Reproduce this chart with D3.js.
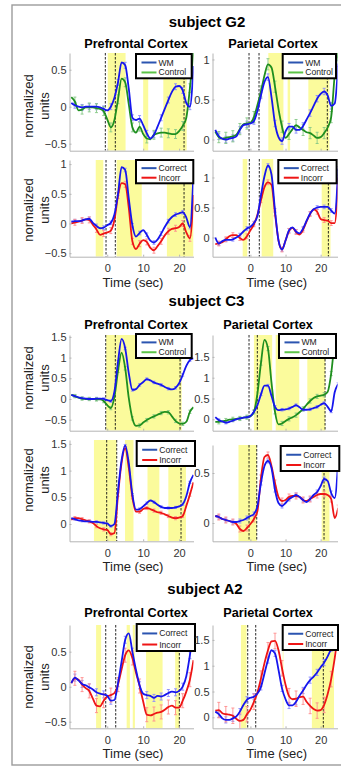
<!DOCTYPE html>
<html><head><meta charset="utf-8">
<script src="https://cdn.jsdelivr.net/npm/d3@7"></script>
<style>body{margin:0;background:#fff;} svg{display:block;font-family:"Liberation Sans",Arial,sans-serif;}</style>
</head><body><svg id="c" width="341" height="767"></svg>
<script>
// ---------- DATA ----------
const timesL = [-10,-9,-8,-7,-6,-5,-4,-3,-2,-1,0,1,2,3,4,5,6,7,8,9,10,11,12,13,14,15,16,17,18,19,20,21,22,23,24];
const timesR = [-10,-9,-8,-7,-6,-5,-4,-3,-2,-1,0,1,2,3,4,5,6,7,8,9,10,11,12,13,14,15,16,17,18,19,20,21,22,23,24,25];
const xTicks = [0,10,20];

// subject G2
const g2PfcWM      = [0.05,0.02,0.0,-0.01,0.0,0.0,0.0,0.0,-0.01,-0.03,-0.05,0.0,0.12,0.33,0.6,0.56,0.24,-0.15,-0.18,-0.16,-0.25,-0.36,-0.43,-0.38,-0.27,-0.15,-0.03,0.09,0.2,0.27,0.28,0.22,0.05,0.0,0.55];
const g2PfcControl = [0.13,0.07,-0.05,-0.04,-0.01,-0.01,-0.01,-0.02,-0.03,-0.06,-0.17,-0.28,-0.18,0.1,0.38,0.33,0.03,-0.28,-0.35,-0.27,-0.37,-0.43,-0.44,-0.38,-0.36,-0.35,-0.35,-0.36,-0.37,-0.37,-0.33,-0.26,-0.15,0.25,0.75];
const g2ParWM      = [0.12,0.04,0.01,0.0,0.01,0.02,0.04,0.12,0.18,0.19,0.2,0.23,0.36,0.55,0.72,0.78,0.53,0.2,0.03,-0.02,0.1,0.16,0.16,0.12,0.12,0.17,0.25,0.33,0.42,0.51,0.57,0.6,0.55,0.42,0.45,0.95];
const g2ParControl = [0.1,0.03,0.01,0.02,0.03,0.04,0.06,0.13,0.19,0.2,0.21,0.28,0.43,0.6,0.8,0.94,0.9,0.66,0.38,0.16,0.02,0.07,0.13,0.18,0.15,0.12,0.09,0.08,0.05,0.02,0.03,0.08,0.15,0.28,0.8,1.1];
const g2PfcCorrect = [0.03,0.04,0.04,0.05,0.07,0.08,0.01,-0.04,-0.08,-0.07,-0.03,0.01,0.15,0.5,0.95,0.9,0.42,-0.03,-0.22,-0.16,-0.11,-0.19,-0.29,-0.32,-0.27,-0.17,-0.06,0.04,0.11,0.15,0.17,0.19,0.1,-0.06,0.85];
const g2PfcIncorr  = [0.0,0.02,0.03,0.05,0.07,0.06,-0.02,-0.1,-0.19,-0.17,-0.15,-0.12,0.06,0.47,0.68,0.66,0.26,-0.3,-0.43,-0.34,-0.28,-0.31,-0.41,-0.45,-0.38,-0.3,-0.2,-0.13,-0.09,-0.08,-0.06,0.0,-0.15,-0.25,0.48];
const g2ParCorrect = [0.0,-0.1,-0.06,-0.04,-0.04,-0.03,0.0,0.04,0.1,0.15,0.18,0.24,0.36,0.7,1.02,1.2,1.05,0.45,-0.05,-0.2,-0.05,0.12,0.17,0.1,0.07,0.15,0.28,0.4,0.47,0.5,0.51,0.51,0.51,0.45,0.4,1.15];
const g2ParIncorr  = [-0.11,-0.1,-0.08,-0.03,0.02,0.04,0.04,-0.01,-0.04,0.02,0.12,0.22,0.38,0.62,0.84,0.92,0.88,0.4,-0.05,-0.2,-0.05,0.11,0.16,0.09,0.05,0.13,0.27,0.39,0.47,0.43,0.31,0.29,0.28,0.24,0.24,1.0];

// subject C3
const c3PfcWM      = [0.1,0.07,0.04,0.02,0.01,0.0,0.0,0.01,0.01,0.0,-0.03,-0.05,0.18,0.9,1.45,1.22,0.62,0.22,0.24,0.34,0.41,0.48,0.45,0.4,0.37,0.34,0.29,0.25,0.23,0.27,0.38,0.58,0.8,0.94,0.98];
const c3PfcControl = [0.1,0.07,0.03,0.01,0.0,0.0,0.0,-0.01,-0.01,-0.05,-0.15,-0.22,0.05,0.68,1.12,0.74,0.02,-0.47,-0.65,-0.64,-0.57,-0.51,-0.46,-0.42,-0.38,-0.34,-0.31,-0.32,-0.42,-0.53,-0.59,-0.6,-0.55,-0.31,-0.2];
const c3ParWM      = [0.05,-0.02,-0.05,-0.08,-0.06,-0.03,0.0,0.02,0.04,0.05,0.08,0.18,0.34,0.6,0.81,0.81,0.56,0.3,0.22,0.23,0.24,0.26,0.3,0.34,0.29,0.23,0.23,0.24,0.27,0.3,0.35,0.39,0.3,0.19,0.65,0.85];
const c3ParControl = [-0.06,-0.06,-0.05,-0.03,-0.01,0.0,0.01,0.02,0.04,0.05,0.07,0.18,0.62,1.35,1.91,1.7,0.88,0.18,-0.12,-0.1,-0.04,0.01,0.05,0.1,0.17,0.25,0.35,0.44,0.51,0.55,0.57,0.59,0.66,1.1,1.85,2.2];
const c3PfcCorrect = [0.11,0.09,0.07,0.06,0.05,0.05,0.04,0.04,0.03,0.02,0.01,-0.04,0.0,0.62,1.2,1.47,1.14,0.55,0.27,0.28,0.33,0.39,0.44,0.41,0.36,0.32,0.3,0.3,0.3,0.31,0.33,0.37,0.52,0.78,0.92];
const c3PfcIncorr  = [0.08,0.11,0.11,0.09,0.07,0.05,0.02,-0.04,-0.08,-0.1,-0.11,-0.19,-0.17,0.55,1.15,1.42,1.05,0.5,0.23,0.23,0.28,0.3,0.28,0.25,0.22,0.21,0.18,0.15,0.12,0.11,0.12,0.15,0.34,0.55,0.78];
const c3ParCorrect = [0.07,0.06,0.04,0.03,0.02,0.01,0.01,0.02,0.03,0.05,0.07,0.09,0.17,0.4,0.57,0.62,0.55,0.33,0.2,0.17,0.2,0.24,0.26,0.28,0.26,0.23,0.21,0.24,0.28,0.31,0.37,0.44,0.42,0.3,0.25,0.62];
const c3ParIncorr  = [0.07,0.06,0.04,0.03,0.02,0.01,-0.01,-0.06,-0.08,-0.05,-0.01,0.04,0.12,0.45,0.66,0.68,0.57,0.4,0.26,0.22,0.23,0.26,0.27,0.27,0.26,0.23,0.22,0.24,0.26,0.28,0.29,0.29,0.28,0.24,0.05,0.15];

// subject A2
const a2PfcCorrect = [0.05,0.13,0.09,0.04,0.02,-0.01,-0.04,-0.08,-0.1,-0.11,-0.13,-0.2,-0.19,0.05,0.36,0.67,0.76,0.5,0.24,0.02,-0.1,-0.12,-0.13,-0.16,-0.13,-0.14,-0.12,-0.09,-0.07,-0.08,-0.06,0.0,0.15,0.45,0.82];
const a2PfcIncorr  = [0.05,0.12,0.1,0.03,-0.02,-0.06,-0.17,-0.27,-0.28,-0.2,-0.14,-0.12,-0.09,0.03,0.25,0.45,0.52,0.41,0.2,0.01,-0.21,-0.4,-0.41,-0.39,-0.37,-0.36,-0.33,-0.29,-0.27,-0.3,-0.3,-0.2,-0.07,0.1,0.38];
const a2ParCorrect = [0.11,0.06,-0.02,-0.05,-0.05,-0.02,0.02,0.11,0.24,0.34,0.38,0.4,0.46,0.59,0.85,1.11,1.3,1.24,0.92,0.56,0.35,0.23,0.23,0.3,0.42,0.52,0.63,0.72,0.79,0.87,0.97,1.06,1.18,1.34,1.58,1.8];
const a2ParIncorr  = [0.13,0.14,0.08,0.06,0.05,0.03,-0.03,-0.07,-0.05,0.06,0.15,0.3,0.48,0.75,1.05,1.3,1.47,1.48,1.3,0.95,0.63,0.41,0.35,0.36,0.39,0.4,0.3,0.22,0.16,0.13,0.14,0.24,0.45,0.74,1.14,1.7];

// error-bar half widths (one estimate per series)
const errG2Task = [0.04,0.06,0.04,0.07];   // PFC WM, PFC Control, PAR WM, PAR Control
const errG2Resp = [0.03,0.05,0.03,0.04];
const errC3Task = [0.03,0.04,0.03,0.05];
const errC3Resp = [0.02,0.03,0.02,0.03];
const errA2Resp = [0.05,0.1,0.06,0.15];

// significance bands [start, end] (sec)
const bandsG2PfcTask = [[0.14,5.1],[10.0,11.4],[15.6,22.1]];
const bandsG2ParTask = [[5.1,9.4],[10.6,11.3],[16.5,22.5]];
const bandsG2PfcResp = [[-3.2,-1.1],[2.6,9.6],[16.6,24]];
const bandsG2ParResp = [[-2.2,-0.9],[3.2,6.5],[20.3,22.8]];
const bandsC3PfcTask = [[-0.3,20.7]];
const bandsC3ParTask = [[1.0,6.2],[7.2,13.9],[16.2,21.3]];
const bandsC3PfcResp = [[-3.7,2.6],[4.95,7.3],[11.2,14.5],[17,21.9]];
const bandsC3ParResp = [[-3.4,1.8],[20.3,22.5]];
const bandsA2PfcResp = [[-3.1,-1.7],[5.4,6.3],[7.1,7.7],[10.8,15.4],[18.9,20.1]];
const bandsA2ParResp = [[-2.7,-1.1],[9.2,9.4],[17.5,23.8]];

// event markers (sec)
const dashG2PfcTask = [-0.53,2.25,21.37];
const dashG2ParTask = [-0.4,2.45,21.9];
const dashG2PfcResp = [-0.34,2.25,21.37];
const dashG2ParResp = [-0.31,2.53,22.2];
const dashC3PfcTask = [-0.42,2.25,20.26];
const dashC3ParTask = [-0.4,1.97,21.25];
const dashC3PfcResp = [-0.15,2.64,20.53];
const dashC3ParResp = [-0.4,1.8,20.96];
const dashA2PfcResp = [-0.42,2.36,20.06];
const dashA2ParResp = [-0.77,1.51,20.76];

// y tick values
const yTicksG2PfcTask = [-0.5,0,0.5];
const yTicksG2ParTask = [0,0.5,1];
const yTicksG2PfcResp = [-0.5,0,0.5,1];
const yTicksG2ParResp = [0,0.5,1];
const yTicksC3PfcTask = [-0.5,0,0.5,1,1.5];
const yTicksC3ParTask = [0,0.5,1,1.5];
const yTicksC3PfcResp = [0,0.5,1,1.5];
const yTicksC3ParResp = [0,0.5];
const yTicksA2PfcResp = [-0.5,0,0.5];
const yTicksA2ParResp = [0,0.5,1,1.5];

// y limits
const yLimG2PfcTask = [-0.595,0.726];
const yLimG2ParTask = [-0.14,1.081];
const yLimG2PfcResp = [-0.559,1.069];
const yLimG2ParResp = [-0.32,1.308];
const yLimC3PfcTask = [-0.766,1.546];
const yLimC3ParTask = [-0.274,2.026];
const yLimC3PfcResp = [-0.324,1.573];
const yLimC3ParResp = [-0.183,0.78];
const yLimA2PfcResp = [-0.594,0.881];
const yLimA2ParResp = [-0.213,1.789];

const subjects = ['subject G2','subject C3','subject A2'];
const regions = ['Prefrontal Cortex','Parietal Cortex'];

// ---------- LAYOUT ----------
const colors = {WM:'#1616ee', Control:'#1f8f1f', Correct:'#1616ee', Incorr:'#ee1515'};
const legendColors = {WM:'#2b54b0', Control:'#5cc447', Correct:'#2b54b0', Incorr:'#ee1515'};
const errColors = {WM:'#8a8aff', Control:'#86c886', Correct:'#8a8aff', Incorr:'#ff8c8c'};
const yellow = '#fbfb9c';

const cols = {
  L:{domain:[-10.5,24], range:[69.5,193.5], times:timesL, timeX:133},
  R:{domain:[-10.8,24.8], range:[212.5,337.5], times:timesR, timeX:276.7}
};
const rows = [
  {top:[53,53], bottom:150.7, xLabels:false, ylab:106},
  {top:[160,159], bottom:256.7, xLabels:true, ylab:210},
  {top:[335,335], bottom:430.7, xLabels:false, ylab:378},
  {top:[440,445], bottom:541.3, xLabels:true, ylab:480},
  {top:[625,625], bottom:728.3, xLabels:true, ylab:677}
];
const panels = [
  {row:0,col:'L',yLim:yLimG2PfcTask,yTicks:yTicksG2PfcTask,bands:bandsG2PfcTask,dashes:dashG2PfcTask,
   series:[['WM',g2PfcWM,errG2Task[0]],['Control',g2PfcControl,errG2Task[1]]],legend:[136,54,55.7,24.3]},
  {row:0,col:'R',yLim:yLimG2ParTask,yTicks:yTicksG2ParTask,bands:bandsG2ParTask,dashes:dashG2ParTask,
   series:[['WM',g2ParWM,errG2Task[2]],['Control',g2ParControl,errG2Task[3]]],legend:[282.7,54,53.3,24.3]},
  {row:1,col:'L',yLim:yLimG2PfcResp,yTicks:yTicksG2PfcResp,bands:bandsG2PfcResp,dashes:dashG2PfcResp,
   series:[['Correct',g2PfcCorrect,errG2Resp[0]],['Incorr',g2PfcIncorr,errG2Resp[1]]],legend:[136,160,57.3,23.3]},
  {row:1,col:'R',yLim:yLimG2ParResp,yTicks:yTicksG2ParResp,bands:bandsG2ParResp,dashes:dashG2ParResp,
   series:[['Correct',g2ParCorrect,errG2Resp[2]],['Incorr',g2ParIncorr,errG2Resp[3]]],legend:[278.3,160,58.3,23.3]},
  {row:2,col:'L',yLim:yLimC3PfcTask,yTicks:yTicksC3PfcTask,bands:bandsC3PfcTask,dashes:dashC3PfcTask,
   series:[['WM',c3PfcWM,errC3Task[0]],['Control',c3PfcControl,errC3Task[1]]],legend:[136,334,55.7,24]},
  {row:2,col:'R',yLim:yLimC3ParTask,yTicks:yTicksC3ParTask,bands:bandsC3ParTask,dashes:dashC3ParTask,
   series:[['WM',c3ParWM,errC3Task[2]],['Control',c3ParControl,errC3Task[3]]],legend:[279,334,57,24]},
  {row:3,col:'L',yLim:yLimC3PfcResp,yTicks:yTicksC3PfcResp,bands:bandsC3PfcResp,dashes:dashC3PfcResp,
   series:[['Correct',c3PfcCorrect,errC3Resp[0]],['Incorr',c3PfcIncorr,errC3Resp[1]]],legend:[136.7,441,58.3,25]},
  {row:3,col:'R',yLim:yLimC3ParResp,yTicks:yTicksC3ParResp,bands:bandsC3ParResp,dashes:dashC3ParResp,
   series:[['Correct',c3ParCorrect,errC3Resp[2]],['Incorr',c3ParIncorr,errC3Resp[3]]],legend:[280.7,446,58.6,25]},
  {row:4,col:'L',yLim:yLimA2PfcResp,yTicks:yTicksA2PfcResp,bands:bandsA2PfcResp,dashes:dashA2PfcResp,
   series:[['Correct',a2PfcCorrect,errA2Resp[0]],['Incorr',a2PfcIncorr,errA2Resp[1]]],legend:[136.7,624,58.3,27]},
  {row:4,col:'R',yLim:yLimA2ParResp,yTicks:yTicksA2ParResp,bands:bandsA2ParResp,dashes:dashA2ParResp,
   series:[['Correct',a2ParCorrect,errA2Resp[2]],['Incorr',a2ParIncorr,errA2Resp[3]]],legend:[282.7,625,55.3,25]}
];
const sections = [
  {title:subjects[0], ty:26.5, tx:207, py:48.4, px:[136,273]},
  {title:subjects[1], ty:306, tx:206.5, py:328.6, px:[136,268]},
  {title:subjects[2], ty:594, tx:205, py:617, px:[136,268]}
];

// ---------- DRAW ----------
const svg = d3.select('#c');
svg.append('rect').attr('x',12).attr('y',5).attr('width',340).attr('height',760)
  .attr('fill','none').attr('stroke','#9c9c9c').attr('stroke-width',1.4);

sections.forEach(s=>{
  svg.append('text').attr('x',s.tx).attr('y',s.ty).attr('text-anchor','middle')
    .attr('font-size',15).attr('font-weight','bold').attr('fill','#000').text(s.title);
  regions.forEach((r,k)=>{
    svg.append('text').attr('x',s.px[k]).attr('y',s.py).attr('text-anchor','middle')
      .attr('font-size',12.7).attr('font-weight','bold').attr('fill','#000').text(r);
  });
});

rows.forEach(r=>{
  const g = svg.append('g').attr('font-size',13).attr('fill','#222');
  g.append('text').attr('transform',`translate(28,${r.ylab}) rotate(-90)`).attr('text-anchor','middle')
    .attr('dominant-baseline','central').text('normalized');
  g.append('text').attr('transform',`translate(44.5,${r.ylab}) rotate(-90)`).attr('text-anchor','middle')
    .attr('dominant-baseline','central').text('units');
  if(r.xLabels){
    ['L','R'].forEach(c=>{
      g.append('text').attr('x',cols[c].timeX).attr('y',r.bottom+25.5).attr('text-anchor','middle')
        .attr('dominant-baseline','central').text('Time (sec)');
    });
  }
});

const fmt = d3.format('~g');
panels.forEach((p,i)=>{
  const c = cols[p.col], r = rows[p.row];
  const top = r.top[p.col==='L'?0:1], bottom = r.bottom;
  const x = d3.scaleLinear().domain(c.domain).range(c.range);
  const y = d3.scaleLinear().domain(p.yLim).range([bottom, top]);
  const g = svg.append('g');
  const cid = 'clip'+i;
  svg.append('clipPath').attr('id',cid).append('rect')
    .attr('x',c.range[0]).attr('y',top).attr('width',c.range[1]-c.range[0]).attr('height',bottom-top);
  const pg = g.append('g').attr('clip-path',`url(#${cid})`);
  p.bands.forEach(b=>{
    pg.append('rect').attr('x',x(b[0])).attr('width',x(b[1])-x(b[0]))
      .attr('y',top).attr('height',bottom-top).attr('fill',yellow);
  });
  p.dashes.forEach(t=>{
    pg.append('line').attr('x1',x(t)).attr('x2',x(t)).attr('y1',top).attr('y2',bottom)
      .attr('stroke','#111').attr('stroke-width',0.9).attr('stroke-dasharray','2.5,1.5');
  });
  // error bars
  p.series.forEach(([lab,vals,err])=>{
    const eg = pg.append('g').attr('stroke',errColors[lab]).attr('stroke-width',0.9);
    c.times.forEach((t,k)=>{
      if(k%2!==1) return;
      const v = vals[k];
      eg.append('line').attr('x1',x(t)).attr('x2',x(t)).attr('y1',y(v-err)).attr('y2',y(v+err));
      eg.append('line').attr('x1',x(t)-1.5).attr('x2',x(t)+1.5).attr('y1',y(v-err)).attr('y2',y(v-err));
      eg.append('line').attr('x1',x(t)-1.5).attr('x2',x(t)+1.5).attr('y1',y(v+err)).attr('y2',y(v+err));
    });
  });
  const line = d3.line().x(d=>x(d[0])).y(d=>y(d[1])).curve(d3.curveMonotoneX);
  // draw second series first (it sits beneath in the reference), then first
  [p.series[1], p.series[0]].forEach(([lab,vals])=>{
    pg.append('path').datum(c.times.map((t,k)=>[t,vals[k]])).attr('d',line)
      .attr('fill','none').attr('stroke',colors[lab]).attr('stroke-width',1.8).attr('stroke-linejoin','round');
  });
  // axes
  const ya = d3.axisLeft(y).tickValues(p.yTicks).tickSizeInner(-2).tickSizeOuter(0).tickPadding(3).tickFormat(fmt);
  const yg = g.append('g').attr('transform',`translate(${c.range[0]},0)`).call(ya);
  const xa = d3.axisBottom(x).tickValues(xTicks).tickSizeInner(-2).tickSizeOuter(0).tickPadding(7.4)
    .tickFormat(r.xLabels ? fmt : ()=>'');
  const xg = g.append('g').attr('transform',`translate(0,${bottom})`).call(xa);
  [yg,xg].forEach(ax=>{
    ax.select('.domain').attr('stroke','#b4b4b4').attr('stroke-width',1);
    ax.selectAll('.tick line').attr('stroke','#b4b4b4');
    ax.selectAll('.tick text').attr('font-size',11).attr('fill','#333')
      .attr('font-family','"Liberation Sans",Arial,sans-serif');
  });
  // legend
  const L = p.legend;
  const lg = g.append('g');
  lg.append('rect').attr('x',L[0]).attr('y',L[1]).attr('width',L[2]).attr('height',L[3])
    .attr('fill','#fff').attr('stroke','#000').attr('stroke-width',2);
  p.series.forEach(([lab],k)=>{
    const yy = L[1] + (k===0?0.35:0.76)*L[3];
    lg.append('line').attr('x1',L[0]+5.5).attr('x2',L[0]+20.5).attr('y1',yy).attr('y2',yy)
      .attr('stroke',legendColors[lab]).attr('stroke-width',2);
    lg.append('text').attr('x',L[0]+22.5).attr('y',yy).attr('dominant-baseline','central')
      .attr('font-size',8.6).attr('fill','#222').text(lab);
  });
});
</script>
</body></html>
